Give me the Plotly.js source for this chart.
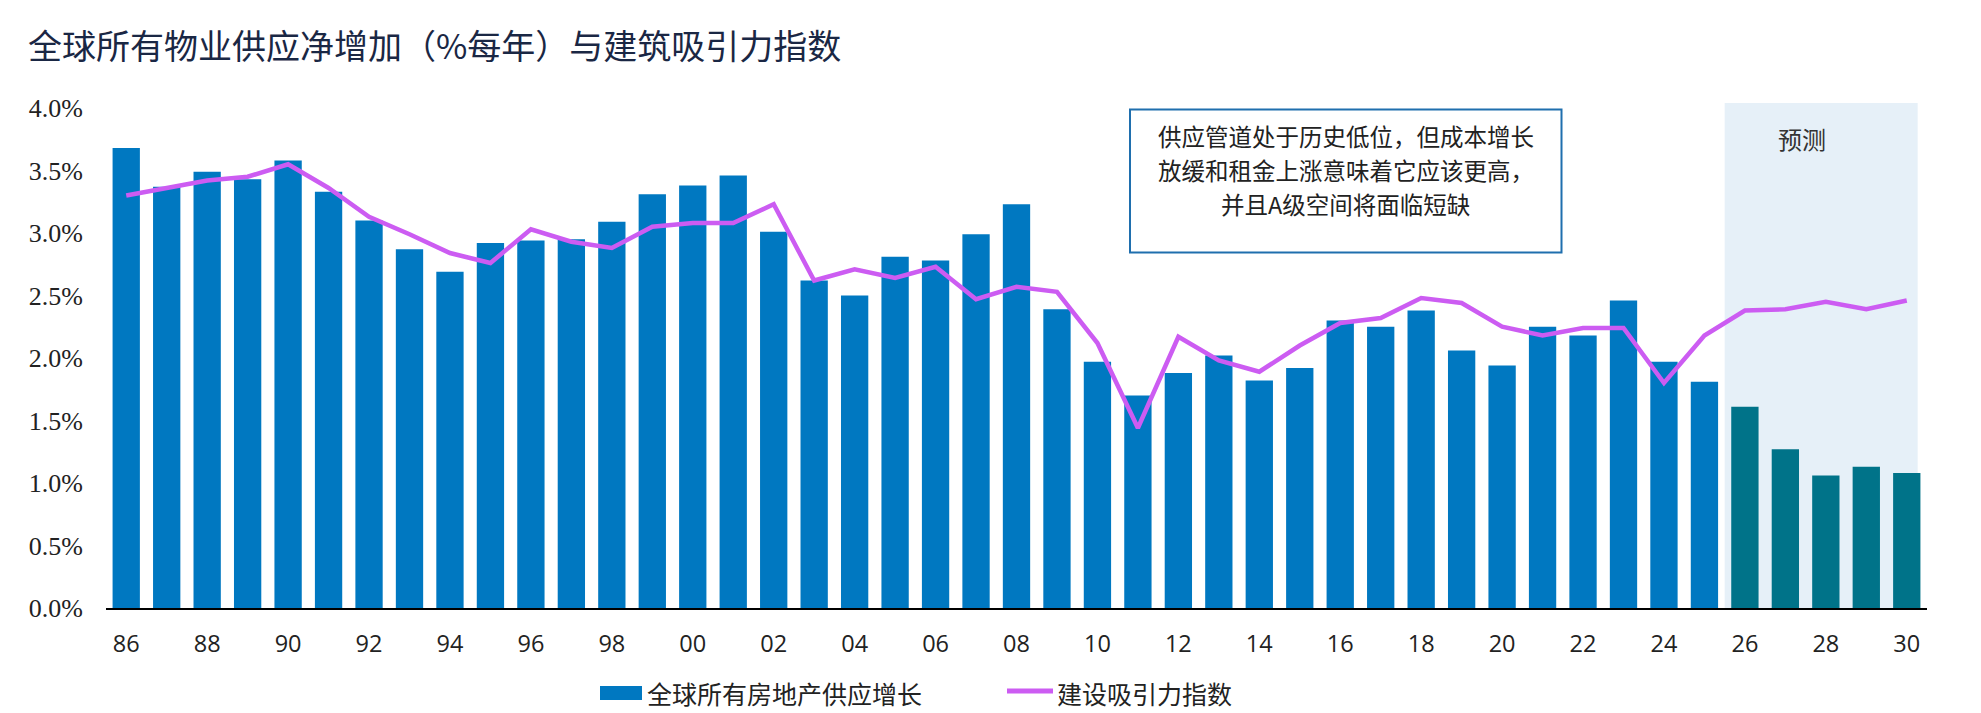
<!DOCTYPE html>
<html>
<head>
<meta charset="utf-8">
<script src="https://cdn.plot.ly/plotly-3.0.1.min.js"></script>
<style>
  html, body { margin: 0; padding: 0; background: #ffffff; }
  #chart { width: 1981px; height: 713px; }
</style>
</head>
<body>
<div id="chart"></div>
<script>
// Years covered by the chart (1986–2025 actual, 2026–2030 forecast)
const years = [
  1986, 1987, 1988, 1989, 1990, 1991, 1992, 1993, 1994, 1995,
  1996, 1997, 1998, 1999, 2000, 2001, 2002, 2003, 2004, 2005,
  2006, 2007, 2008, 2009, 2010, 2011, 2012, 2013, 2014, 2015,
  2016, 2017, 2018, 2019, 2020, 2021, 2022, 2023, 2024, 2025,
  2026, 2027, 2028, 2029, 2030
];

// Net global supply growth across all property types (% per year)
const supplyGrowth = [
  3.68, 3.37, 3.49, 3.43, 3.58, 3.33, 3.10, 2.87, 2.69, 2.92,
  2.94, 2.95, 3.09, 3.31, 3.38, 3.46, 3.01, 2.62, 2.50, 2.81,
  2.78, 2.99, 3.23, 2.39, 1.97, 1.70, 1.88, 2.02, 1.82, 1.92,
  2.30, 2.25, 2.38, 2.06, 1.94, 2.25, 2.18, 2.46, 1.97, 1.81,
  1.61, 1.27, 1.06, 1.13, 1.08
];

// Construction attractiveness index
const constructionIndex = [
  3.30, 3.36, 3.42, 3.45, 3.55, 3.36, 3.13, 2.99, 2.84, 2.76,
  3.03, 2.93, 2.88, 3.05, 3.08, 3.08, 3.23, 2.62, 2.71, 2.64,
  2.73, 2.47, 2.57, 2.53, 2.12, 1.44, 2.17, 1.98, 1.89, 2.10,
  2.28, 2.32, 2.48, 2.44, 2.25, 2.18, 2.24, 2.24, 1.80, 2.18,
  2.38, 2.39, 2.45, 2.39, 2.46
];

// X-axis tick positions and their two-digit labels
const tickYears = [
  1986, 1988, 1990, 1992, 1994, 1996, 1998, 2000, 2002, 2004, 2006, 2008,
  2010, 2012, 2014, 2016, 2018, 2020, 2022, 2024, 2026, 2028, 2030
];
const tickLabels = [
  '86', '88', '90', '92', '94', '96', '98', '00', '02', '04', '06', '08',
  '10', '12', '14', '16', '18', '20', '22', '24', '26', '28', '30'
];

const forecastFirstYear = 2026;

const seriesNames = ['全球所有房地产供应增长', '建设吸引力指数'];
const chartTitle = '全球所有物业供应净增加（%每年）与建筑吸引力指数';
const forecastLabel = '预测';
const noteLines = [
  '供应管道处于历史低位，但成本增长',
  '放缓和租金上涨意味着它应该更高，',
  '并且A级空间将面临短缺'
];

// ---- styling ----
const BLUE = '#0078c1';
const TEAL = '#007389';
const MAGENTA = '#cc5cf2';
const SHADE = '#e6f0f8';
const CJK = 'Noto Sans CJK SC, Noto Sans, sans-serif';

const W = 1981, H = 713;
const M = { l: 106, r: 54, t: 103, b: 105 };
const plotW = W - M.l - M.r;
const plotH = H - M.t - M.b;
// pixel -> paper coordinate helpers for the decorations around the plot
const px = x => (x - M.l) / plotW;
const py = y => (H - M.b - y) / plotH;

const barColors = years.map(y => (y >= forecastFirstYear ? TEAL : BLUE));

const traces = [
  {
    type: 'bar',
    name: seriesNames[0],
    x: years,
    y: supplyGrowth,
    width: 0.675,
    marker: { color: barColors, line: { width: 0 } },
    showlegend: false
  },
  {
    type: 'scatter',
    mode: 'lines',
    name: seriesNames[1],
    x: years,
    y: constructionIndex,
    line: { color: MAGENTA, width: 4.5 },
    showlegend: false
  }
];

const layout = {
  width: W,
  height: H,
  margin: M,
  paper_bgcolor: '#ffffff',
  plot_bgcolor: '#ffffff',
  showlegend: false,
  title: {
    text: chartTitle,
    font: { family: CJK, size: 34, color: '#1a2744' },
    xref: 'container', yref: 'container',
    x: 28 / W, xanchor: 'left',
    y: 1 - 47 / H, yanchor: 'middle'
  },
  xaxis: {
    range: [1985.5, 2030.5],
    tickmode: 'array',
    tickvals: tickYears,
    ticktext: tickLabels,
    ticks: '',
    showgrid: false,
    zeroline: false,
    showline: true,
    linecolor: '#000000',
    linewidth: 2,
    ticklabelstandoff: 14,
    tickfont: { family: 'Open Sans, sans-serif', size: 23.5, color: '#222222' }
  },
  yaxis: {
    range: [0, 4.04],
    tickmode: 'linear',
    tick0: 0,
    dtick: 0.5,
    tickformat: '.1f',
    ticksuffix: '%',
    ticks: '',
    showgrid: false,
    zeroline: false,
    showline: false,
    ticklabelstandoff: 22,
    tickfont: { family: 'Liberation Serif, Times New Roman, serif', size: 26, color: '#222222' }
  },
  shapes: [
    // forecast period band
    {
      type: 'rect', layer: 'below',
      xref: 'x', yref: 'paper',
      x0: forecastFirstYear - 0.5, x1: 2030.27, y0: 0, y1: 1,
      fillcolor: SHADE, line: { width: 0 }
    },
    // note box frame
    {
      type: 'rect', layer: 'above',
      xref: 'paper', yref: 'paper',
      x0: px(1130), x1: px(1561.5), y0: py(252.5), y1: py(109.5),
      fillcolor: 'rgba(255,255,255,0)',
      line: { color: '#1f6fae', width: 2 }
    },
    // legend swatches
    {
      type: 'rect', xref: 'paper', yref: 'paper',
      x0: px(600), x1: px(642), y0: py(700), y1: py(686),
      fillcolor: BLUE, line: { width: 0 }
    },
    {
      type: 'line', xref: 'paper', yref: 'paper',
      x0: px(1007), x1: px(1053), y0: py(691), y1: py(691),
      line: { color: MAGENTA, width: 5 }
    }
  ],
  annotations: [
    {
      text: forecastLabel,
      xref: 'x', yref: 'paper',
      x: 2027.4, y: py(139),
      xanchor: 'center', yanchor: 'middle',
      showarrow: false,
      font: { family: CJK, size: 24, color: '#333333' }
    },
    ...noteLines.map((line, i) => ({
      text: line,
      xref: 'paper', yref: 'paper',
      x: px(1345.5), y: py([136, 169.5, 204][i]),
      xanchor: 'center', yanchor: 'middle',
      showarrow: false,
      font: { family: CJK, size: 23.5, color: '#222222' }
    })),
    {
      text: seriesNames[0],
      xref: 'paper', yref: 'paper',
      x: px(645), y: py(692.5),
      xanchor: 'left', yanchor: 'middle',
      showarrow: false,
      font: { family: CJK, size: 25, color: '#222222' }
    },
    {
      text: seriesNames[1],
      xref: 'paper', yref: 'paper',
      x: px(1055), y: py(692.5),
      xanchor: 'left', yanchor: 'middle',
      showarrow: false,
      font: { family: CJK, size: 25, color: '#222222' }
    }
  ]
};

Plotly.newPlot('chart', traces, layout, { staticPlot: true, displayModeBar: false });
</script>
</body>
</html>
